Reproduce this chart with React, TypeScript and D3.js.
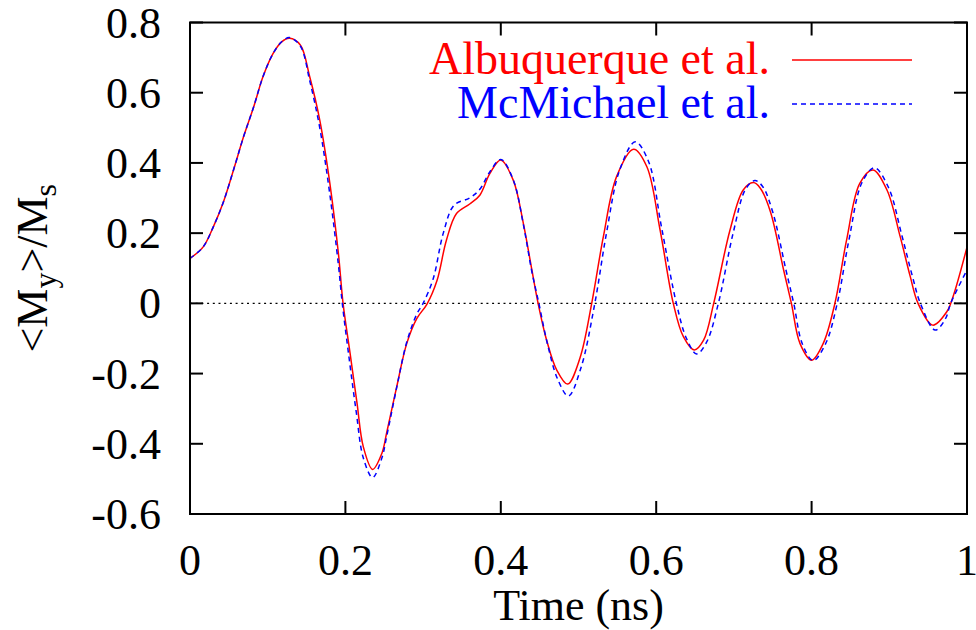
import React from "react";
import * as d3 from "d3";

const albT = [0,0.017,0.030,0.043,0.056,0.069,0.082,0.094,0.107,0.118,0.128,0.142,0.154,0.167,0.180,0.191,0.197,0.206,0.215,0.223,0.235,0.247,0.253,0.266,0.279,0.292,0.305,0.318,0.330,0.343,0.360,0.373,0.386,0.400,0.416,0.429,0.440,0.448,0.459,0.472,0.486,0.502,0.517,0.532,0.549,0.571,0.588,0.605,0.622,0.635,0.649,0.661,0.674,0.695,0.712,0.725,0.734,0.747,0.764,0.774,0.785,0.800,0.815,0.830,0.845,0.862,0.879,0.897,0.914,0.927,0.937,0.956,0.974,0.982,1.000];
const albV = [0.128,0.161,0.218,0.289,0.380,0.475,0.560,0.646,0.712,0.745,0.755,0.736,0.646,0.522,0.342,0.142,0.000,-0.142,-0.285,-0.408,-0.473,-0.427,-0.370,-0.238,-0.114,-0.043,-0.002,0.066,0.180,0.256,0.283,0.308,0.370,0.408,0.351,0.228,0.095,0.000,-0.105,-0.190,-0.230,-0.155,0.000,0.190,0.361,0.439,0.389,0.209,0.000,-0.095,-0.133,-0.105,0.000,0.209,0.323,0.344,0.328,0.261,0.095,0.000,-0.114,-0.162,-0.114,0.000,0.180,0.342,0.380,0.323,0.190,0.076,0.000,-0.062,-0.024,0.019,0.160];

const mcmT = [0,0.017,0.030,0.043,0.056,0.069,0.082,0.094,0.107,0.118,0.128,0.142,0.154,0.167,0.180,0.191,0.196,0.205,0.214,0.223,0.235,0.247,0.253,0.266,0.279,0.292,0.300,0.313,0.326,0.340,0.360,0.373,0.386,0.400,0.416,0.429,0.440,0.449,0.460,0.473,0.487,0.503,0.521,0.536,0.553,0.573,0.590,0.607,0.626,0.639,0.652,0.665,0.680,0.699,0.715,0.727,0.737,0.750,0.767,0.777,0.788,0.802,0.818,0.833,0.848,0.865,0.881,0.899,0.916,0.930,0.940,0.959,0.972,0.979,1.000];
const mcmV = [0.128,0.161,0.218,0.289,0.380,0.475,0.560,0.646,0.712,0.745,0.757,0.733,0.635,0.500,0.310,0.110,0.000,-0.160,-0.310,-0.440,-0.496,-0.440,-0.380,-0.240,-0.110,-0.030,0.000,0.070,0.200,0.280,0.300,0.325,0.375,0.410,0.352,0.225,0.090,0.000,-0.115,-0.215,-0.264,-0.185,0.000,0.200,0.380,0.460,0.405,0.215,0.000,-0.100,-0.144,-0.110,0.000,0.200,0.325,0.350,0.333,0.260,0.095,0.000,-0.115,-0.163,-0.115,0.000,0.180,0.345,0.386,0.330,0.195,0.075,0.000,-0.076,-0.045,0.000,0.095];

const xTicks = [0, 0.2, 0.4, 0.6, 0.8, 1];
const xTickLabels = ["0", "0.2", "0.4", "0.6", "0.8", "1"];
const yTicks = [-0.6, -0.4, -0.2, 0, 0.2, 0.4, 0.6, 0.8];
const yTickLabels = ["-0.6", "-0.4", "-0.2", "0", "0.2", "0.4", "0.6", "0.8"];
const seriesNames = ["Albuquerque et al.", "McMichael et al."];

const FONT = "Liberation Serif, Times New Roman, serif";

export default function App() {
  const L = 190, R = 967, T = 22.5, B = 514;
  const x = d3.scaleLinear().domain([0, 1]).range([L, R]);
  const y = d3.scaleLinear().domain([-0.6, 0.8]).range([B, T]);
  const line = d3
    .line<[number, number]>()
    .x((d) => x(d[0]))
    .y((d) => y(d[1]))
    .curve(d3.curveCatmullRom.alpha(0.5));
  const alb = albT.map((t, i) => [t, albV[i]] as [number, number]);
  const mcm = mcmT.map((t, i) => [t, mcmV[i]] as [number, number]);
  const fs = 44;
  const lfs = 46;
  const tick = 13;
  const ts = { fontFamily: FONT };
  return (
    <svg width={976} height={630} style={{ position: "absolute", left: 0, top: 0, background: "#fff" }}>
      <rect x={0} y={0} width={976} height={630} fill="#fff" />
      <defs>
        <clipPath id="plotclip">
          <rect x={L} y={T} width={R - L} height={B - T} />
        </clipPath>
      </defs>
      <line x1={x(0)} x2={x(1)} y1={y(0)} y2={y(0)} stroke="#000" strokeWidth={1.2} strokeDasharray="2,3.7" />
      {xTicks.map((t, i) => (
        <g key={"xt" + i}>
          <line x1={x(t)} x2={x(t)} y1={B} y2={B - tick} stroke="#000" strokeWidth={2} />
          <line x1={x(t)} x2={x(t)} y1={T} y2={T + tick} stroke="#000" strokeWidth={2} />
          <text x={x(t)} y={575} textAnchor="middle" fontSize={fs} fill="#000" style={ts}>{xTickLabels[i]}</text>
        </g>
      ))}
      {yTicks.map((v, i) => (
        <g key={"yt" + i}>
          <line x1={L} x2={L + tick} y1={y(v)} y2={y(v)} stroke="#000" strokeWidth={2} />
          <line x1={R} x2={R - tick} y1={y(v)} y2={y(v)} stroke="#000" strokeWidth={2} />
          <text x={161} y={y(v) + 15} textAnchor="end" fontSize={fs} fill="#000" style={ts}>{yTickLabels[i]}</text>
        </g>
      ))}
      <g clipPath="url(#plotclip)">
        <path d={line(alb) || ""} fill="none" stroke="#ff0000" strokeWidth={1.5} />
        <path d={line(mcm) || ""} fill="none" stroke="#0000ff" strokeWidth={1.5} strokeDasharray="5,4" />
      </g>
      <rect x={L} y={T} width={R - L} height={B - T} fill="none" stroke="#000" strokeWidth={2} />
      <text x={770} y={74} textAnchor="end" fontSize={lfs} fill="#ff0000" style={ts}>{seriesNames[0]}</text>
      <line x1={792} x2={912} y1={60} y2={60} stroke="#ff0000" strokeWidth={1.5} />
      <text x={770} y={118} textAnchor="end" fontSize={lfs} fill="#0000ff" style={ts}>{seriesNames[1]}</text>
      <line x1={792} x2={912} y1={104} y2={104} stroke="#0000ff" strokeWidth={1.5} strokeDasharray="5,4" />
      <text x={x(0.5)} y={620} textAnchor="middle" fontSize={fs} fill="#000" style={ts}>Time (ns)</text>
      <text transform={`translate(47,${(T + B) / 2}) rotate(-90)`} textAnchor="middle" fontSize={fs} fill="#000" style={ts}>
        &lt;M<tspan fontSize={32} dy={9}>y</tspan><tspan dy={-9}>&gt;/M</tspan><tspan fontSize={32} dy={9}>s</tspan>
      </text>
    </svg>
  );
}
